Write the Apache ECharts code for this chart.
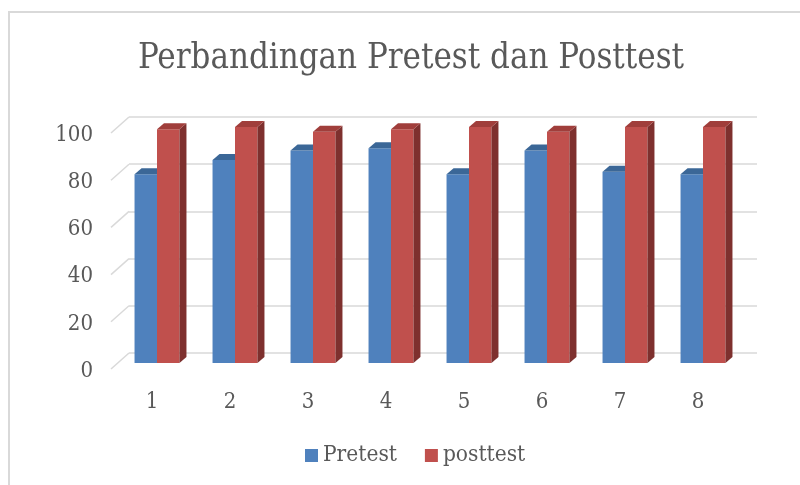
<!DOCTYPE html>
<html>
<head>
<meta charset="utf-8">
<script src="https://cdn.jsdelivr.net/npm/echarts@6/dist/echarts.min.js"></script>
<style>html,body{margin:0;padding:0;background:#fff;}#c{width:800px;height:485px;}</style>
</head>
<body>
<div id="c"></div>
<script>
const categories = ['1','2','3','4','5','6','7','8'];
const pretest = [80, 86, 90, 91, 80, 90, 81, 80];
const posttest = [99, 100, 98, 99, 100, 98, 100, 100];
const yTicks = [0, 20, 40, 60, 80, 100];

const FONT = '"DejaVu Serif Condensed", "Liberation Serif", serif';
const TXT = '#595959';
const GRIDC = '#d9d9d9';
const DX = 7, DY = 6;

function bar3d(front, top, side, left) {
  return function (params, api) {
    const idx = api.value(0), v = api.value(1);
    const b = api.coord([idx, 0]);
    const t = api.coord([idx, v]);
    const band = api.size([1, 0])[0];
    const w = band * 0.288;
    const x0 = left ? b[0] - w : b[0];
    const x1 = x0 + w;
    const ty = t[1], by = b[1];
    return {
      type: 'group',
      children: [
        { type: 'rect', shape: { x: x0, y: ty, width: w, height: by - ty }, style: { fill: front } },
        { type: 'polygon', shape: { points: [[x1, ty], [x1 + DX, ty - DY], [x1 + DX, by - DY], [x1, by]] }, style: { fill: side } },
        { type: 'polygon', shape: { points: [[x0, ty], [x1, ty], [x1 + DX, ty - DY], [x0 + DX, ty - DY]] }, style: { fill: top } }
      ]
    };
  };
}

const chart = echarts.init(document.getElementById('c'));
chart.setOption({
  animation: false,
  backgroundColor: '#fff',
  graphic: [{
    type: 'rect', shape: { x: 9, y: 12, width: 900, height: 600 },
    style: { fill: 'none', stroke: GRIDC, lineWidth: 2 }, z: -10
  }],
  title: {
    text: 'Perbandingan Pretest dan Posttest',
    left: 133, top: 37,
    textStyle: { fontFamily: FONT, fontSize: 34.5, fontWeight: 'normal', color: TXT }
  },
  legend: {
    data: ['Pretest', 'posttest'],
    left: 305, top: 444, padding: 0,
    icon: 'rect', itemWidth: 13, itemHeight: 13, itemGap: 28,
    textStyle: { fontFamily: FONT, fontSize: 22.5, color: TXT }
  },
  grid: [
    { left: 129, right: 43, top: 117, bottom: 132 },
    { left: 113, right: 63, top: 135, bottom: 114 },
    { left: 118, right: 58, top: 127, bottom: 122 }
  ],
  xAxis: [
    { gridIndex: 0, type: 'value', min: 0, max: 1, show: false },
    { gridIndex: 1, type: 'category', data: categories,
      axisLine: { show: false }, axisTick: { show: false },
      axisLabel: { margin: 20, fontFamily: FONT, fontSize: 22, color: TXT } },
    { gridIndex: 2, type: 'category', data: categories, show: false }
  ],
  yAxis: [
    { gridIndex: 0, type: 'value', min: 0, max: 100, interval: 20,
      axisLine: { show: false }, axisTick: { show: false }, axisLabel: { show: false },
      splitLine: { show: true, lineStyle: { color: GRIDC, width: 1.5 } } },
    { gridIndex: 1, type: 'value', min: 0, max: 100, interval: 20,
      axisLine: { show: false }, axisTick: { show: false }, splitLine: { show: false },
      axisLabel: { margin: 20, fontFamily: FONT, fontSize: 22, color: TXT } },
    { gridIndex: 2, type: 'value', min: 0, max: 100, show: false }
  ],
  series: [
    {
      type: 'custom', name: 'walls', xAxisIndex: 0, yAxisIndex: 0, silent: true,
      data: yTicks.map(v => [0, v]),
      renderItem: function (params, api) {
        const p = api.coord([0, api.value(1)]);
        return { type: 'line', shape: { x1: p[0], y1: p[1], x2: p[0] - 18, y2: p[1] + 16 },
          style: { stroke: GRIDC, lineWidth: 1.5 } };
      }
    },
    {
      type: 'custom', name: 'Pretest', xAxisIndex: 2, yAxisIndex: 2,
      itemStyle: { color: '#4f81bd' },
      data: pretest.map((v, i) => [i, v]),
      renderItem: bar3d('#4f81bd', '#3b6797', '#34598a', true)
    },
    {
      type: 'custom', name: 'posttest', xAxisIndex: 2, yAxisIndex: 2,
      itemStyle: { color: '#c0504d' },
      data: posttest.map((v, i) => [i, v]),
      renderItem: bar3d('#c0504d', '#a03e3b', '#7e302e', false)
    }
  ]
});
</script>
</body>
</html>
